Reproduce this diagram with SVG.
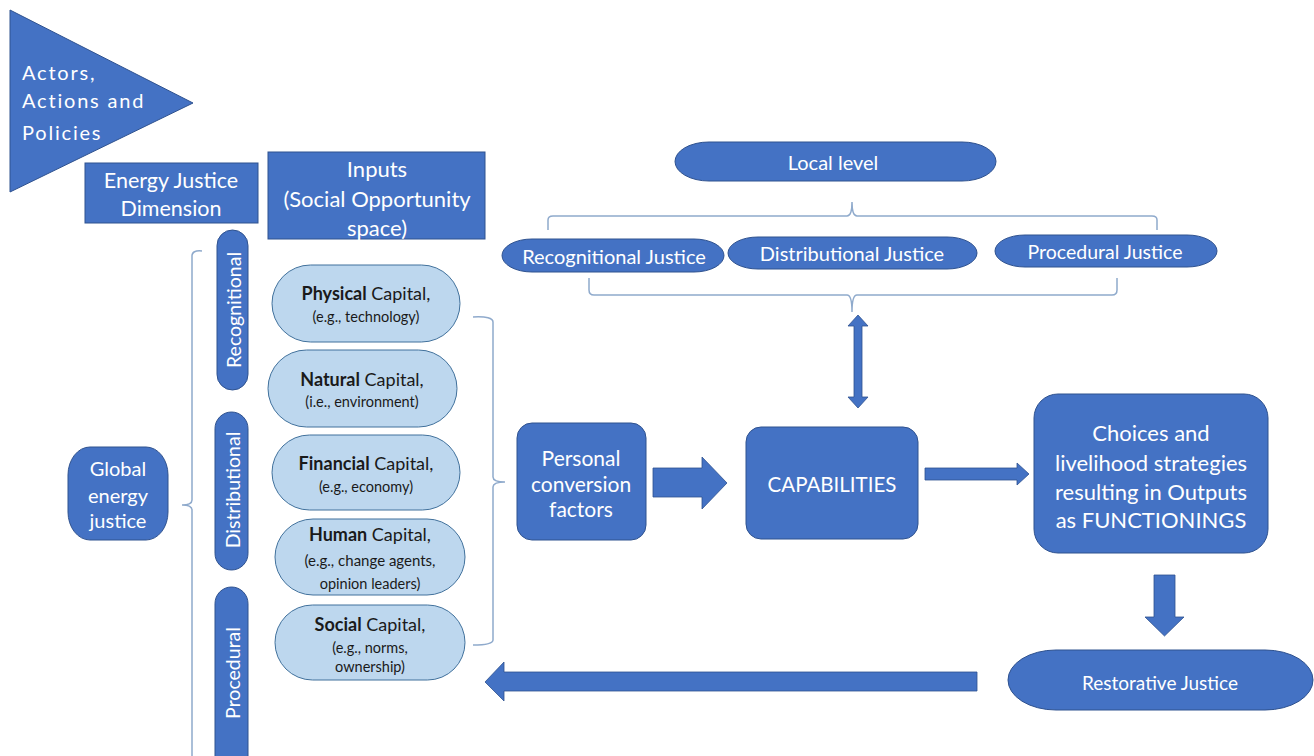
<svg xmlns="http://www.w3.org/2000/svg" width="1314" height="756" viewBox="0 0 1314 756">
<style>
.blue{fill:#4472C4;stroke:#2F528F;stroke-width:1}
.light{fill:#BDD7EE;stroke:#41719C;stroke-width:1}
.arrow{fill:#4472C4;stroke:#2F528F;stroke-width:0.8}
.br{fill:none;stroke:#8FAACC;stroke-width:1.5}
.w{fill:#FFFFFF;font-family:Lato,"Liberation Sans",sans-serif;text-anchor:middle;dominant-baseline:central}
.k{fill:#1A1A1A;font-family:Lato,"Liberation Sans",sans-serif;text-anchor:middle;dominant-baseline:central}
.act{fill:#FFFFFF;font-family:Lato,"Open Sans",sans-serif;font-size:20px;letter-spacing:1.8px;dominant-baseline:central}
</style>
<rect width="1314" height="756" fill="#FFFFFF"/>

<g id="actors">
<polygon class="blue" points="10,10 193,103 10,192"/>
<text class="act" x="22" y="72">Actors,</text>
<text class="act" x="22" y="100">Actions and</text>
<text class="act" x="22" y="132">Policies</text>
</g>

<g id="energy-justice-dimension">
<rect class="blue" x="85" y="163" width="173" height="60"/>
<text class="w" x="171" y="180" font-size="21.5">Energy Justice</text>
<text class="w" x="171" y="208" font-size="21.5">Dimension</text>
</g>

<g id="inputs">
<rect class="blue" x="268" y="152" width="217" height="87"/>
<text class="w" x="377" y="168" font-size="22">Inputs</text>
<text class="w" x="377" y="198" font-size="22">(Social Opportunity</text>
<text class="w" x="377" y="227" font-size="22">space)</text>
</g>

<g id="global">
<rect class="blue" x="68" y="447" width="100" height="93" rx="22" ry="28"/>
<text class="w" x="118" y="468" font-size="20">Global</text>
<text class="w" x="118" y="495" font-size="20">energy</text>
<text class="w" x="118" y="520" font-size="20">justice</text>
</g>

<g id="dim-recognitional">
<rect class="blue" x="217" y="230" width="31" height="160" rx="15.5"/>
<text class="w" font-size="19.5" transform="translate(233,310) rotate(-90)">Recognitional</text>
</g>
<g id="dim-distributional">
<rect class="blue" x="215" y="412" width="33" height="158" rx="16.5"/>
<text class="w" font-size="19.5" transform="translate(232,490) rotate(-90)">Distributional</text>
</g>
<g id="dim-procedural">
<rect class="blue" x="215" y="587" width="33" height="200" rx="16.5"/>
<text class="w" font-size="19.5" transform="translate(232,673) rotate(-90)">Procedural</text>
</g>

<g id="physical">
<rect class="light" x="272" y="265" width="188" height="77" rx="38.5"/>
<text class="k" x="366" y="293" font-size="18"><tspan font-weight="bold">Physical</tspan> Capital,</text>
<text class="k" x="366" y="316" font-size="14.5">(e.g., technology)</text>
</g>
<g id="natural">
<rect class="light" x="268" y="350" width="189" height="77" rx="38.5"/>
<text class="k" x="362" y="379" font-size="18"><tspan font-weight="bold">Natural</tspan> Capital,</text>
<text class="k" x="362" y="401" font-size="14.5">(i.e., environment)</text>
</g>
<g id="financial">
<rect class="light" x="272" y="435" width="188" height="75" rx="37.5"/>
<text class="k" x="366" y="463" font-size="18"><tspan font-weight="bold">Financial</tspan> Capital,</text>
<text class="k" x="366" y="486" font-size="14.5">(e.g., economy)</text>
</g>
<g id="human">
<rect class="light" x="275" y="519" width="190" height="76" rx="38"/>
<text class="k" x="370" y="534" font-size="18"><tspan font-weight="bold">Human</tspan> Capital,</text>
<text class="k" x="370" y="560" font-size="15">(e.g., change agents,</text>
<text class="k" x="370" y="583" font-size="14.5">opinion leaders)</text>
</g>
<g id="social">
<rect class="light" x="275" y="605" width="190" height="75" rx="37.5"/>
<text class="k" x="370" y="624" font-size="18"><tspan font-weight="bold">Social</tspan> Capital,</text>
<text class="k" x="370" y="647" font-size="14.5">(e.g., norms,</text>
<text class="k" x="370" y="666" font-size="14.5">ownership)</text>
</g>

<g id="local-level">
<rect class="blue" x="675" y="142" width="321" height="39" rx="34" ry="19.5"/>
<text class="w" x="833" y="162" font-size="20">Local level</text>
</g>
<g id="recognitional-justice">
<rect class="blue" x="502" y="239" width="222" height="33" rx="30" ry="16.5"/>
<text class="w" x="614" y="256" font-size="20">Recognitional Justice</text>
</g>
<g id="distributional-justice">
<rect class="blue" x="728" y="237" width="249" height="32" rx="30" ry="16"/>
<text class="w" x="852" y="253" font-size="20">Distributional Justice</text>
</g>
<g id="procedural-justice">
<rect class="blue" x="995" y="235" width="222" height="32" rx="30" ry="16"/>
<text class="w" x="1105" y="251" font-size="19.5">Procedural Justice</text>
</g>

<g id="personal">
<rect class="blue" x="517" y="423" width="129" height="117" rx="15"/>
<text class="w" x="581" y="457" font-size="21">Personal</text>
<text class="w" x="581" y="483" font-size="21">conversion</text>
<text class="w" x="581" y="508" font-size="21">factors</text>
</g>
<g id="capabilities">
<rect class="blue" x="746" y="427" width="172" height="112" rx="15"/>
<text class="w" x="832" y="484" font-size="20.5">CAPABILITIES</text>
</g>
<g id="choices">
<rect class="blue" x="1034" y="394" width="234" height="159" rx="24"/>
<text class="w" x="1151" y="432" font-size="22">Choices and</text>
<text class="w" x="1151" y="462" font-size="22">livelihood strategies</text>
<text class="w" x="1151" y="491" font-size="22">resulting in Outputs</text>
<text class="w" x="1151" y="519" font-size="22">as FUNCTIONINGS</text>
</g>
<g id="restorative">
<rect class="blue" x="1008" y="650" width="305" height="60" rx="48" ry="30"/>
<text class="w" x="1160" y="682" font-size="19">Restorative Justice</text>
</g>

<g id="connectors">
<path class="br" d="M202,251 Q192,250 192,256 L192,500 Q192,505 182,505 Q192,505 192,510 L192,756"/>
<path class="br" d="M473,317 Q493,316 493,322 L493,477 Q493,482 505,482 Q493,482 493,487 L493,640 Q493,645 473,645"/>
<path class="br" d="M548,230 L548,220 Q548,216 553,216 L847,216 Q852,216 852,202 Q852,216 857,216 L1152,216 Q1157,216 1157,220 L1157,230"/>
<path class="br" d="M589,278 L589,290 Q589,295 594,295 L847,295 Q852,295 852,312 Q852,295 857,295 L1112,295 Q1117,295 1117,290 L1117,278"/>
<polygon class="arrow" points="858,315 868,326 862,326 862,397 868,397 858,408 848,397 854,397 854,326 848,326"/>
<polygon class="arrow" points="653,468 702,468 702,457 727,483 702,509 702,497 653,497"/>
<polygon class="arrow" points="925,468 1017,468 1017,463 1029,474 1017,485 1017,480 925,480"/>
<polygon class="arrow" points="1154,575 1175,575 1175,617 1184,617 1164.5,636 1145,617 1154,617"/>
<polygon class="arrow" points="977,672 504,672 504,662 485,682 504,701 504,691 977,691"/>
</g>
</svg>
